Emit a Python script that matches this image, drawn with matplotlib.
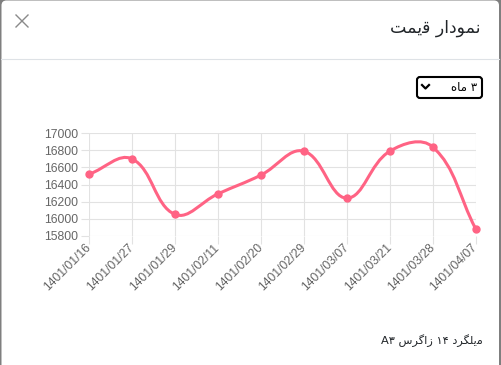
import numpy as np
import matplotlib.pyplot as plt
from matplotlib.path import Path
from matplotlib.patches import PathPatch, FancyBboxPatch

# --- dane wykresu ---
dates = ['1401/01/16', '1401/01/27', '1401/01/29', '1401/02/11', '1401/02/20',
         '1401/02/29', '1401/03/07', '1401/03/21', '1401/03/28', '1401/04/07']
prices = [16520, 16700, 16050, 16290, 16510, 16790, 16240, 16790, 16840, 15880]
y_ticks = [15800, 16000, 16200, 16400, 16600, 16800, 17000]

# teksty perskie (formy prezentacyjne, kolejność wizualna)
title_txt = '\uFE96\uFEE4\uFBFE\uFED7 \uFEAD\uFE8D\uFEA9\uFEEE\uFEE4\uFEE7'   # نمودار قیمت
period_txt = '\uFEE9\uFE8E\uFEE3 \u06F3'                                     # ۳ ماه
footer_txt = ('A\u06F3 \uFEB1\uFEAE\uFB94\uFE8D\uFEAF \u06F1\u06F4 '
              '\uFEA9\uFEAE\uFB95\uFEE0\uFBFE\uFEE3')                        # میلگرد ۱۴ زاگرس A۳

W, H = 501, 365
fig = plt.figure(figsize=(W / 100, H / 100), dpi=100, facecolor='#7f7f7f')

# tło okna (piksele)
bg = fig.add_axes([0, 0, 1, 1])
bg.set_xlim(0, W)
bg.set_ylim(H, 0)
bg.axis('off')
bg.add_patch(FancyBboxPatch((1.5, 0.5), 497.5, 380, boxstyle='round,pad=0,rounding_size=5',
                            facecolor='white', edgecolor='none'))
bg.plot([1.5, 499], [59.3, 59.3], color='#dee2e6', lw=0.8)
bg.plot([16, 28], [15, 27], color='#8a8a8a', lw=1.0)
bg.plot([16, 28], [27, 15], color='#8a8a8a', lw=1.0)
bg.text(481, 28, title_txt, family=['DejaVu Sans'], fontsize=12.5, color='#212529',
        ha='right', va='center')
bg.add_patch(FancyBboxPatch((417, 77), 65, 21, boxstyle='round,pad=0,rounding_size=3',
                            facecolor='white', edgecolor='black', lw=1.5))
bg.text(477, 87.5, period_txt, family=['DejaVu Sans'], fontsize=8.5, color='black',
        ha='right', va='center')
bg.plot([422, 425.5, 429], [85, 88.5, 85], color='black', lw=1.6)
bg.text(483, 341, footer_txt, family=['DejaVu Sans'], fontsize=8.2, color='#212529',
        ha='right', va='center')

# --- wykres ---
ax = fig.add_axes([89 / W, 1 - 235.7 / H, 386.7 / W, 102.4 / H])
ax.set_facecolor('none')
x = np.arange(len(prices))
ax.set_xlim(0, len(prices) - 1)
ax.set_ylim(y_ticks[0], y_ticks[-1])
ax.set_yticks(y_ticks)
ax.set_xticks(x)
ax.set_xticklabels(dates, rotation=45, ha='right', va='center', rotation_mode='anchor')
ax.grid(True, color='#e2e2e2', lw=0.8)
for s in ax.spines.values():
    s.set_visible(False)
ax.tick_params(length=6, width=0.8, color='#e2e2e2', labelcolor='#666666',
               labelsize=8.8, pad=1.5)
for lab in ax.get_xticklabels() + ax.get_yticklabels():
    lab.set_family('Liberation Sans')

# krzywa jak w chart.js (tension 0.4), liczona w pikselach
pts = ax.transData.transform(np.column_stack([x, prices]))
t = 0.4
x0, y0 = ax.transData.transform((0, y_ticks[0]))
x1, y1 = ax.transData.transform((len(prices) - 1, y_ticks[-1]))
ctrl = []
for i in range(len(pts)):
    prev = pts[max(i - 1, 0)]
    cur = pts[i]
    nxt = pts[min(i + 1, len(pts) - 1)]
    d01 = np.hypot(*(cur - prev))
    d12 = np.hypot(*(nxt - cur))
    tot = d01 + d12
    s01 = d01 / tot if tot else 0
    s12 = d12 / tot if tot else 0
    cp = cur - t * s01 * (nxt - prev)
    cn = cur + t * s12 * (nxt - prev)
    cp = np.clip(cp, [x0, y0], [x1, y1])
    cn = np.clip(cn, [x0, y0], [x1, y1])
    ctrl.append((cp, cn))

verts = [pts[0]]
codes = [Path.MOVETO]
for i in range(1, len(pts)):
    verts += [ctrl[i - 1][1], ctrl[i][0], pts[i]]
    codes += [Path.CURVE4] * 3
verts = ax.transData.inverted().transform(np.array(verts))
ax.add_patch(PathPatch(Path(verts, codes), facecolor='none', edgecolor='#ff6384',
                       lw=2.2, clip_on=False, zorder=3))
ax.plot(x, prices, 'o', color='#ff6384', ms=5, clip_on=False, zorder=4)

fig.savefig('out.png', dpi=100, facecolor=fig.get_facecolor())
